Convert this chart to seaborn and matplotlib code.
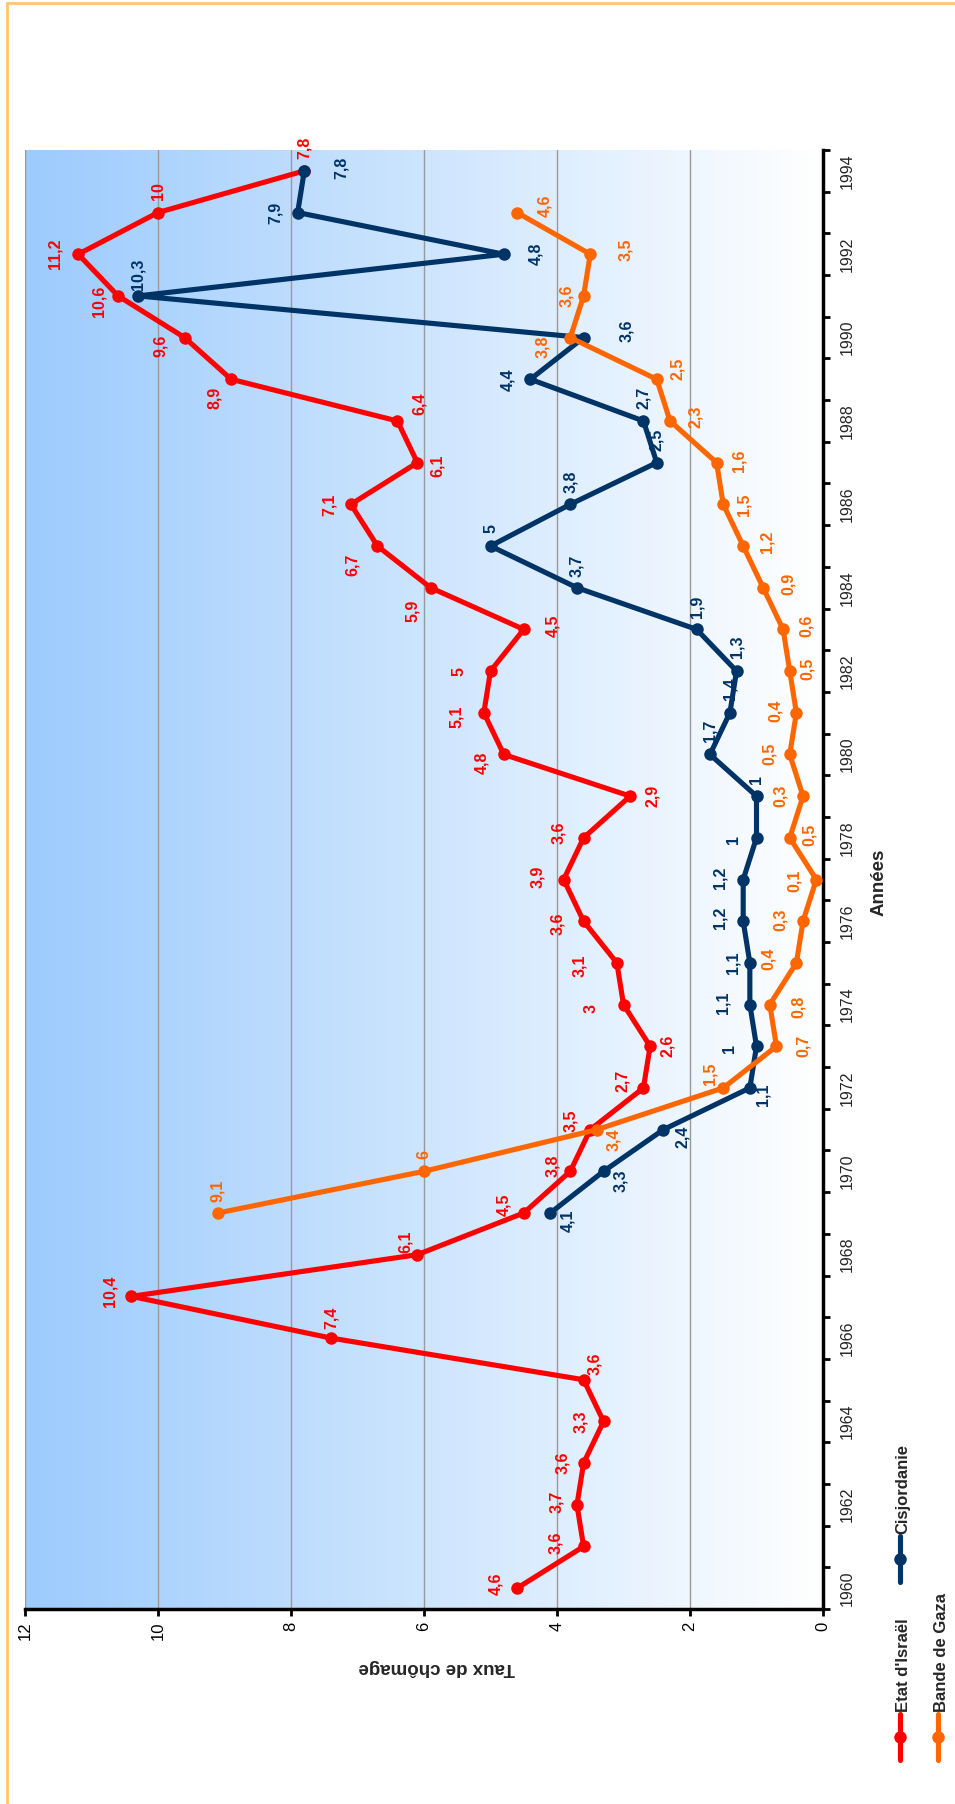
import matplotlib
matplotlib.use("Agg")
import matplotlib.pyplot as plt
import numpy as np
import pandas as pd
import seaborn as sns
from matplotlib.colors import LinearSegmentedColormap
from matplotlib.lines import Line2D

# unemployment rates (%)
years_israel = list(range(1960, 1995))
israel = [4.6, 3.6, 3.7, 3.6, 3.3, 3.6, 7.4, 10.4, 6.1, 4.5,
          3.8, 3.5, 2.7, 2.6, 3.0, 3.1, 3.6, 3.9, 3.6, 2.9,
          4.8, 5.1, 5.0, 4.5, 5.9, 6.7, 7.1, 6.1, 6.4, 8.9,
          9.6, 10.6, 11.2, 10.0, 7.8]
years_cisj = list(range(1969, 1995))
cisjordanie = [4.1, 3.3, 2.4, 1.1, 1.0, 1.1, 1.1, 1.2, 1.2, 1.0,
               1.0, 1.7, 1.4, 1.3, 1.9, 3.7, 5.0, 3.8, 2.5, 2.7,
               4.4, 3.6, 10.3, 4.8, 7.9, 7.8]
years_gaza = list(range(1969, 1994))
gaza = [9.1, 6.0, 3.4, 1.5, 0.7, 0.8, 0.4, 0.3, 0.1, 0.5,
        0.3, 0.5, 0.4, 0.5, 0.6, 0.9, 1.2, 1.5, 1.6, 2.3,
        2.5, 3.8, 3.6, 3.5, 4.6]
series_names = ["Etat d'Israël", "Cisjordanie", "Bande de Gaza"]
value_ticks = [0, 2, 4, 6, 8, 10, 12]
year_labels = list(range(1960, 1995, 2))

# data label placement (pixels, right / up on the page)
off_israel = [(-21, 4), (-28, 4), (-20, 3), (-21, 0), (-23, 0), (11, 16), (0, 20), (-21, 5), (-12, 13), (-20, 8),
              (-18, 5), (-20, 9), (-21, 7), (17, 0), (-32, -4), (-37, -3), (-26, -3), (-26, 3), (-25, 5), (22, 0),
              (-22, -8), (-27, -4), (-31, 0), (29, 4), (-18, -23), (-25, -19), (-21, 0), (20, -3), (22, 17), (-17, -19),
              (-24, -8), (-19, -5), (-23, 0), (0, 21), (0, 23)]
off_cisj = [(17, -8), (17, -9), (19, -7), (13, -7), (-27, -2), (-27, 2), (-17, 0), (-23, 3), (-23, 2), (-23, -2),
            (0, 17), (0, 24), (0, 24), (0, 24), (0, 23), (0, 22), (0, 18), (0, 23), (0, 23), (0, 23),
            (-23, 0), (43, 7), (0, 22), (32, 0), (-22, 0), (37, 3)]
off_gaza = [(0, 22), (0, 17), (17, -10), (-13, 14), (27, 0), (29, -2), (-28, 4), (-23, 1), (-22, -1), (20, 3),
            (-23, 0), (-20, 1), (-21, 2), (18, 2), (23, 4), (25, 4), (24, 4), (21, 0), (22, 2), (25, 4),
            (21, 10), (-28, -9), (-17, 0), (35, 4), (28, 7)]

colors = {"Etat d'Israël": "#FF0000", "Cisjordanie": "#003366", "Bande de Gaza": "#FF6600"}

df = pd.concat([
    pd.DataFrame({"annee": years_israel, "taux": israel, "serie": series_names[0]}),
    pd.DataFrame({"annee": years_cisj, "taux": cisjordanie, "serie": series_names[1]}),
    pd.DataFrame({"annee": years_gaza, "taux": gaza, "serie": series_names[2]}),
], ignore_index=True)

sns.set_style("white")
plt.rcParams["font.family"] = ["Liberation Sans", "DejaVu Sans"]

W, H = 955, 1804
fig = plt.figure(figsize=(W / 100, H / 100), dpi=100)
x0, x1, y0, y1 = 25, 823, 150, 1609
ax = fig.add_axes([x0 / W, 1 - y1 / H, (x1 - x0) / W, (y1 - y0) / H])

# background gradient, blue at 12 fading to white at 0
cmap = LinearSegmentedColormap.from_list("bg", ["#9CCBFD", "#FFFFFF"])
ax.imshow(np.linspace(0, 1, 256).reshape(1, -1), extent=[12, 0, 1959.5, 1994.5],
          aspect="auto", cmap=cmap, zorder=0)

sns.lineplot(data=df, x="taux", y="annee", hue="serie", hue_order=series_names, palette=colors,
             orient="y", estimator=None, marker="o", markersize=9, markeredgewidth=0,
             linewidth=3.7, legend=False, ax=ax, zorder=3)

for yrs, vals, offs, name in [(years_israel, israel, off_israel, series_names[0]),
                              (years_cisj, cisjordanie, off_cisj, series_names[1]),
                              (years_gaza, gaza, off_gaza, series_names[2])]:
    for yr, v, (dx, dy) in zip(yrs, vals, offs):
        ax.annotate(f"{v:g}".replace(".", ","), (v, yr), xytext=(dx, dy), textcoords="offset pixels",
                    ha="center", va="center", rotation=90, color=colors[name],
                    fontsize=11.5, fontweight="bold", zorder=4)

ax.set_xlim(12, 0)
ax.set_ylim(1959.5, 1994.5)
ax.grid(axis="x", color="#999999", linewidth=1)
ax.grid(axis="y", visible=False)
ax.set_axisbelow(True)
for s in ["left", "top"]:
    ax.spines[s].set_visible(False)
for s in ["right", "bottom"]:
    ax.spines[s].set_color("black")
    ax.spines[s].set_linewidth(2.5)

ax.set_xticks(value_ticks)
ax.set_xticklabels([str(v) for v in value_ticks], rotation=90)
ax.tick_params(axis="x", direction="out", length=5, width=2, colors="black", labelsize=12, pad=4, bottom=True)

ax.yaxis.tick_right()
ax.set_yticks(np.arange(1959.5, 1995, 1))
ax.set_yticklabels([])
ax.set_yticks(year_labels, minor=True)
ax.set_yticklabels([str(y) for y in year_labels], minor=True, rotation=90, va="center")
ax.tick_params(axis="y", which="major", direction="out", length=5, width=2, colors="black", right=True)
ax.tick_params(axis="y", which="minor", length=0, labelsize=11.5, pad=12)

ax.set_xlabel("Taux de chômage", fontsize=13.5, fontweight="bold", rotation=180)
ax.xaxis.label.set(va="center", ha="center")
ax.xaxis.set_label_coords(0.516, -0.0404)
ax.yaxis.set_label_position("right")
ax.set_ylabel("Années", fontsize=13.5, fontweight="bold", rotation=90)
ax.yaxis.label.set(va="center", ha="center", rotation_mode="default")
ax.yaxis.set_label_coords(1.070, 0.498)

# legend drawn by hand, turned like the rest of the chart
def legend_entry(xp, ymark, name):
    fx = xp / W
    fig.add_artist(Line2D([fx, fx], [1 - (ymark + 23) / H, 1 - (ymark - 23) / H], color=colors[name],
                          linewidth=3.7, transform=fig.transFigure))
    fig.add_artist(Line2D([fx], [1 - ymark / H], color=colors[name], marker="o", markersize=9,
                          markeredgewidth=0, transform=fig.transFigure))
    fig.text(fx + 3 / W, 1 - (ymark - 25) / H, name, rotation=90, ha="center", va="bottom",
             fontsize=12, fontweight="bold")

legend_entry(900, 1737, series_names[0])
legend_entry(900, 1559, series_names[1])
legend_entry(938, 1737, series_names[2])

# light orange frame of the original sheet
fig.add_artist(Line2D([7 / W, 7 / W], [0, 1 - 3 / H], color="#FFC66E", linewidth=2, transform=fig.transFigure))
fig.add_artist(Line2D([7 / W, 1], [1 - 3 / H, 1 - 3 / H], color="#FFC66E", linewidth=2, transform=fig.transFigure))

fig.savefig("out.png", dpi=100, facecolor="white")
